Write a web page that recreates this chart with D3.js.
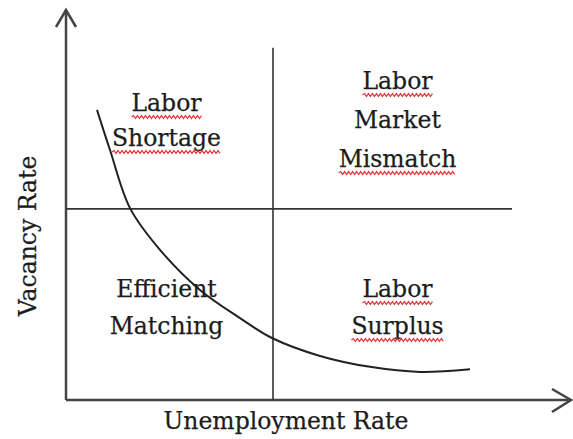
<!DOCTYPE html>
<meta charset="utf-8">
<script src="https://cdn.jsdelivr.net/npm/d3@7"></script>
<style>
body { margin: 0; background: #fff; }
.axis-line { fill: none; stroke: #444; stroke-width: 2.5px; }
.divider { fill: none; stroke: #333; stroke-width: 1.6px; }
.curve { fill: none; stroke: #222; stroke-width: 2px; }
.lbl { font-family: "DejaVu Serif", serif; font-size: 23.5px; fill: #1c1c1c; stroke: #1c1c1c; stroke-width: 0.25px; }
.squiggle { fill: none; stroke: #e8383d; stroke-width: 1.2px; }
</style>
<body>
<script>
// Beveridge curve (arbitrary 0-100 units)
var curveU = [6.2, 8.8, 12.8, 18.8, 26.8, 34.8, 41.2, 50.8, 60.8, 70.8, 80.8];
var curveV = [74.4, 64.1, 49.2, 38.5, 28.2, 21.0, 15.9, 11.3, 8.5, 7.2, 7.9];

// where the quadrants split
var splitU = 41.4, splitV = 49;
var splitUTop = 90.3, splitVEnd = 89.2;

// quadrant labels (lines), and which words get the spell-check squiggle
var topLeft = ["Labor", "Shortage"];
var topRight = ["Labor", "Market", "Mismatch"];
var botLeft = ["Efficient", "Matching"];
var botRight = ["Labor", "Surplus"];
var squiggled = ["Labor", "Shortage", "Mismatch", "Surplus"];

var xTitle = "Unemployment Rate";
var yTitle = "Vacancy Rate";

var width = 573, height = 439;
var x = d3.scaleLinear().domain([0, 100]).range([66, 566]);
var y = d3.scaleLinear().domain([0, 100]).range([400, 10]);

var svg = d3.select("body").append("svg")
    .attr("width", width)
    .attr("height", height);

// axes with open arrow heads
svg.append("path").attr("class", "axis-line")
    .attr("d", "M" + x(0) + "," + y(0) + "V" + y(100));
svg.append("path").attr("class", "axis-line")
    .attr("d", "M" + x(0) + "," + y(0) + "H" + (x(100) + 5));
svg.append("path").attr("class", "axis-line")
    .attr("d", "M" + (x(0) - 10) + "," + (y(100) + 17) + "L" + x(0) + "," + y(100) + "L" + (x(0) + 10) + "," + (y(100) + 17));
svg.append("path").attr("class", "axis-line")
    .attr("d", "M" + (x(100) - 14) + "," + (y(0) - 11) + "L" + (x(100) + 5) + "," + y(0) + "L" + (x(100) - 14) + "," + (y(0) + 12));

// quadrant dividers
svg.append("line").attr("class", "divider")
    .attr("x1", x(splitU)).attr("x2", x(splitU))
    .attr("y1", y(splitUTop)).attr("y2", y(0));
svg.append("line").attr("class", "divider")
    .attr("x1", x(0)).attr("x2", x(splitVEnd))
    .attr("y1", y(splitV)).attr("y2", y(splitV));

// the curve
var pts = curveU.map(function(u, i) { return [u, curveV[i]]; });
var line = d3.line()
    .x(function(d) { return x(d[0]); })
    .y(function(d) { return y(d[1]); })
    .curve(d3.curveCatmullRom);
svg.append("path").datum(pts).attr("class", "curve").attr("d", line);

function squiggle(x0, x1, yy) {
  var d = "M" + x0 + "," + yy, up = true;
  for (var xx = x0 + 2; xx <= x1; xx += 2) {
    d += "L" + xx + "," + (yy + (up ? -1.4 : 1.4));
    up = !up;
  }
  return d;
}

function block(lines, cx, firstBase, gap) {
  lines.forEach(function(t, i) {
    var txt = svg.append("text").attr("class", "lbl")
        .attr("x", cx).attr("y", firstBase + i * gap)
        .attr("text-anchor", "middle").text(t);
    if (squiggled.indexOf(t) >= 0) {
      var w = txt.node().getComputedTextLength();
      svg.append("path").attr("class", "squiggle")
          .attr("d", squiggle(cx - w / 2, cx + w / 2, firstBase + i * gap + 6));
    }
  });
}

var leftC = (x(0) + x(splitU)) / 2 - 3;
var rightC = (x(splitU) + x(splitVEnd)) / 2 + 5;
block(topLeft, leftC, 111, 35);
block(topRight, rightC, 89, 39);
block(botLeft, leftC, 297, 37);
block(botRight, rightC, 297, 37);

svg.append("text").attr("class", "lbl")
    .attr("x", 286).attr("y", 429)
    .attr("text-anchor", "middle").text(xTitle);
svg.append("text").attr("class", "lbl")
    .attr("transform", "translate(36,236) rotate(-90)")
    .attr("text-anchor", "middle").text(yTitle);
</script>
</body>
